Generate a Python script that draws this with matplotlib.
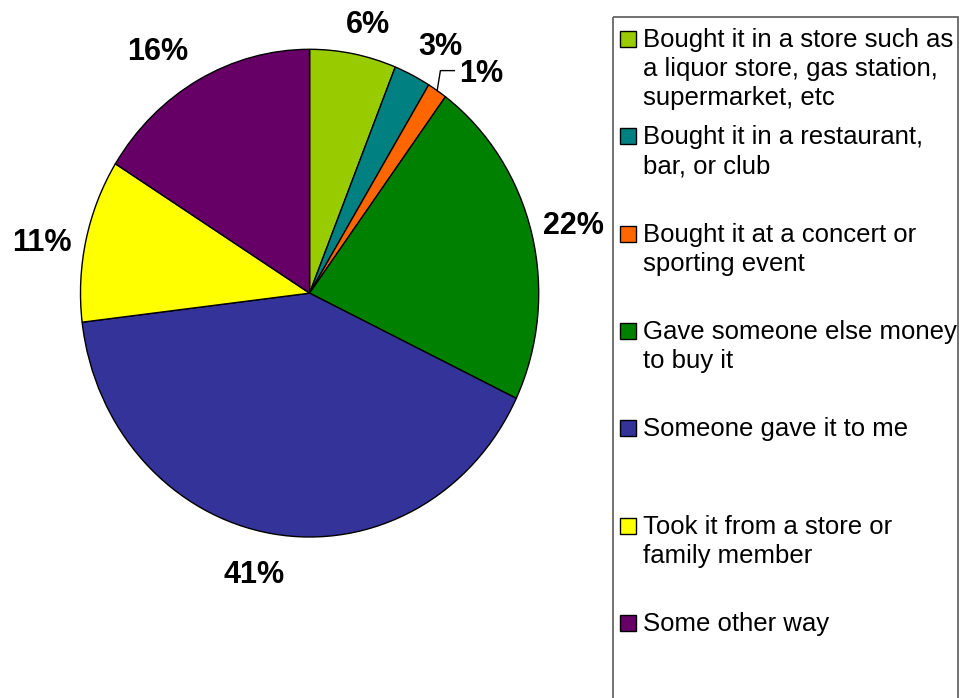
import numpy as np
import matplotlib
matplotlib.use('Agg')
import matplotlib.pyplot as plt
from matplotlib.patches import Rectangle

plt.rcParams['font.family'] = ['Liberation Sans', 'DejaVu Sans']

# data
categories = [
    "Bought it in a store such as\na liquor store, gas station,\nsupermarket, etc",
    "Bought it in a restaurant,\nbar, or club",
    "Bought it at a concert or\nsporting event",
    "Gave someone else money\nto buy it",
    "Someone gave it to me",
    "Took it from a store or\nfamily member",
    "Some other way",
]
shares = [6.1, 2.6, 1.4, 22.0, 41.0, 10.8, 16.1]
colors = ['#99CC00', '#008080', '#FF6600', '#008000', '#333399', '#FFFF00', '#660066']

W, H = 973, 698
fig = plt.figure(figsize=(W / 100, H / 100), dpi=100)

# pie area in pixels (the original pie is a bit taller than wide)
left, right, top, bottom = 80.5, 538.7, 49.3, 537.0
ax = fig.add_axes([left / W, 1 - bottom / H, (right - left) / W, (bottom - top) / H])
wedges, _ = ax.pie(shares, colors=colors, startangle=90, counterclock=False,
                   wedgeprops=dict(edgecolor='black', linewidth=1.0, clip_on=False))
ax.set_aspect('auto')
ax.set_xlim(-1, 1)
ax.set_ylim(-1, 1)
ax.axis('off')

# percentage labels outside the pie
label_r = [1.14, 1.17, 1.18, 1.185, 1.17, 1.19, 1.20]
label_turn = [2, 2.5, 5.5, 0, 2.5, -2, -4.5]  # clockwise nudge, degrees
for i, (w, v) in enumerate(zip(wedges, shares)):
    mid = (w.theta1 + w.theta2) / 2
    a = np.deg2rad(mid - label_turn[i])
    tx, ty = label_r[i] * np.cos(a), label_r[i] * np.sin(a)
    ax.annotate(f'{v:.0f}%', xy=(tx, ty), xytext=(0, -2.2), textcoords='offset points',
                ha='center', va='center', fontsize=22, fontweight='bold',
                annotation_clip=False)
    if i == 2:
        # leader line for the small slice
        m = np.deg2rad(mid)
        x0, y0 = np.cos(m), np.sin(m)
        ax.plot([x0, x0 + 0.014, x0 + 0.075], [y0, ty, ty],
                color='black', lw=1, clip_on=False)

# legend drawn in pixel coordinates
lax = fig.add_axes([0, 0, 1, 1])
lax.set_xlim(0, W)
lax.set_ylim(H, 0)
lax.axis('off')
lax.add_patch(Rectangle((613, 17), 345, 700, fill=False, edgecolor='#666666',
                        linewidth=1.3, clip_on=False))
for i, (name, c) in enumerate(zip(categories, colors)):
    base = 47 + 97.33 * i
    lax.add_patch(Rectangle((620, base - 16), 16, 16, facecolor=c,
                            edgecolor='black', linewidth=1))
    for j, line in enumerate(name.split('\n')):
        lax.text(643, base + 29 * j, line, fontsize=18.5, va='baseline', ha='left')

fig.savefig('out.png', dpi=100)
